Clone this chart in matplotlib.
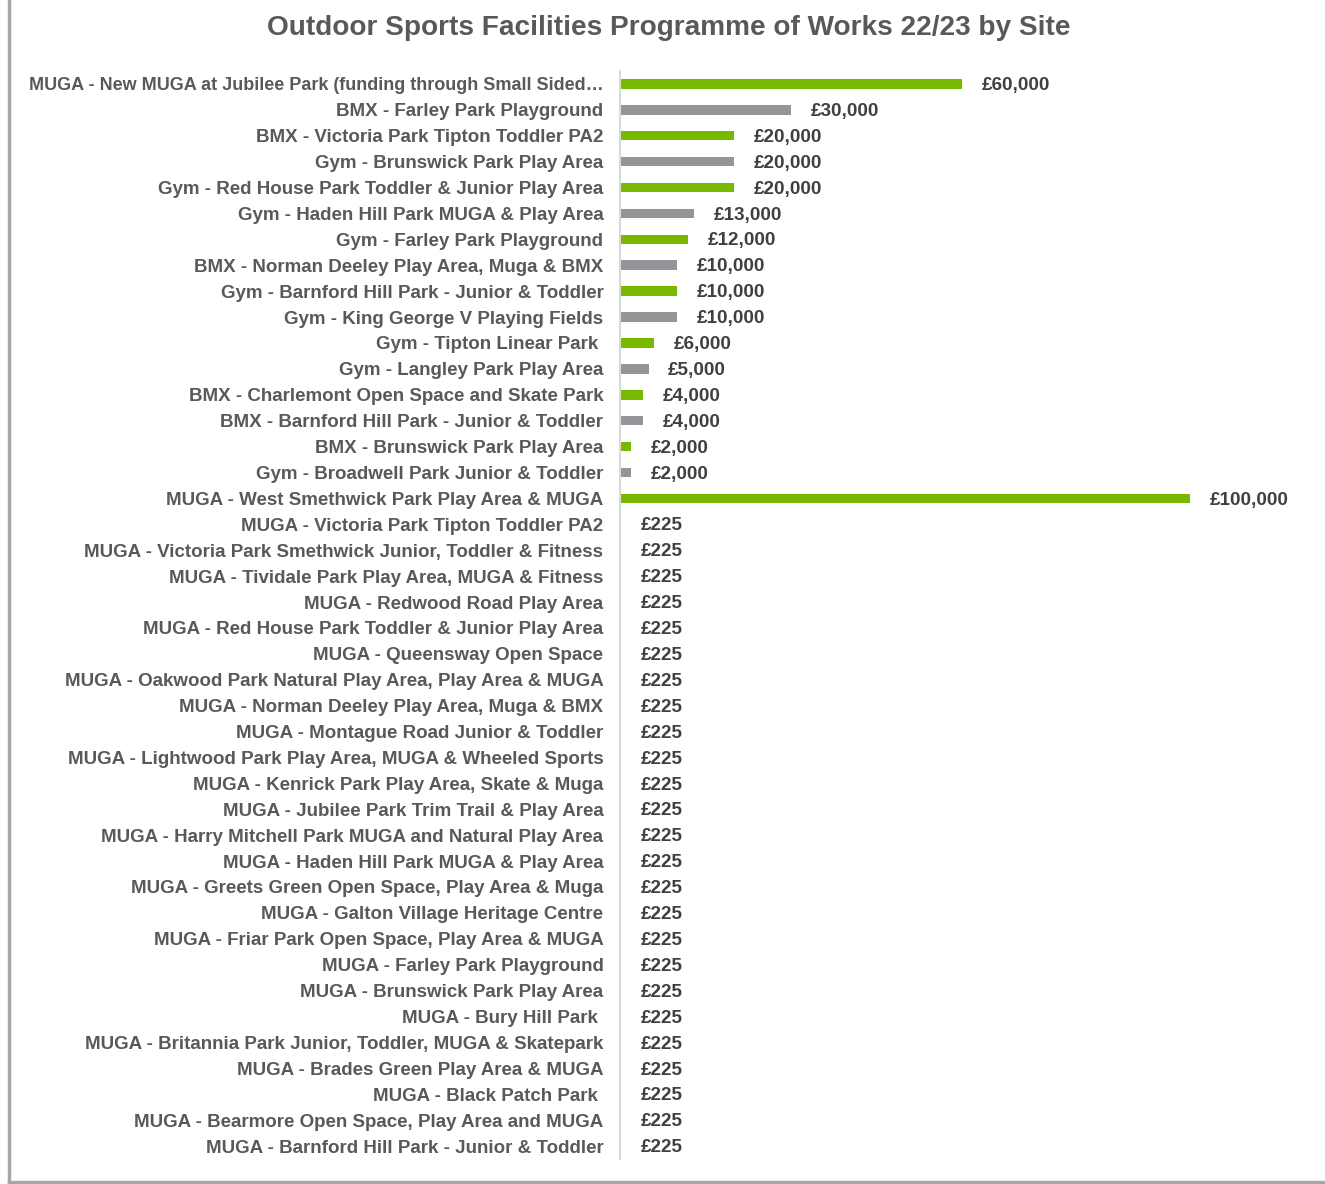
import matplotlib
matplotlib.use('Agg')
import matplotlib.pyplot as plt
from matplotlib.lines import Line2D

plt.rcParams['font.family'] = ['Liberation Sans', 'DejaVu Sans']
plt.rcParams['font.weight'] = 'bold'

sites = [
    "MUGA - New MUGA at Jubilee Park (funding through Small Sided\u2026",
    "BMX - Farley Park Playground",
    "BMX - Victoria Park Tipton Toddler PA2",
    "Gym - Brunswick Park Play Area",
    "Gym - Red House Park Toddler & Junior Play Area",
    "Gym - Haden Hill Park MUGA & Play Area",
    "Gym - Farley Park Playground",
    "BMX - Norman Deeley Play Area, Muga & BMX",
    "Gym - Barnford Hill Park - Junior & Toddler",
    "Gym - King George V Playing Fields",
    "Gym - Tipton Linear Park ",
    "Gym - Langley Park Play Area",
    "BMX - Charlemont Open Space and Skate Park",
    "BMX - Barnford Hill Park - Junior & Toddler",
    "BMX - Brunswick Park Play Area",
    "Gym - Broadwell Park Junior & Toddler",
    "MUGA - West Smethwick Park Play Area & MUGA",
    "MUGA - Victoria Park Tipton Toddler PA2",
    "MUGA - Victoria Park Smethwick Junior, Toddler & Fitness",
    "MUGA - Tividale Park Play Area, MUGA & Fitness",
    "MUGA - Redwood Road Play Area",
    "MUGA - Red House Park Toddler & Junior Play Area",
    "MUGA - Queensway Open Space",
    "MUGA - Oakwood Park Natural Play Area, Play Area & MUGA",
    "MUGA - Norman Deeley Play Area, Muga & BMX",
    "MUGA - Montague Road Junior & Toddler",
    "MUGA - Lightwood Park Play Area, MUGA & Wheeled Sports",
    "MUGA - Kenrick Park Play Area, Skate & Muga",
    "MUGA - Jubilee Park Trim Trail & Play Area",
    "MUGA - Harry Mitchell Park MUGA and Natural Play Area",
    "MUGA - Haden Hill Park MUGA & Play Area",
    "MUGA - Greets Green Open Space, Play Area & Muga",
    "MUGA - Galton Village Heritage Centre",
    "MUGA - Friar Park Open Space, Play Area & MUGA",
    "MUGA - Farley Park Playground",
    "MUGA - Brunswick Park Play Area",
    "MUGA - Bury Hill Park ",
    "MUGA - Britannia Park Junior, Toddler, MUGA & Skatepark",
    "MUGA - Brades Green Play Area & MUGA",
    "MUGA - Black Patch Park ",
    "MUGA - Bearmore Open Space, Play Area and MUGA",
    "MUGA - Barnford Hill Park - Junior & Toddler",
]
costs = [60000, 30000, 20000, 20000, 20000, 13000, 12000, 10000, 10000, 10000,
         6000, 5000, 4000, 4000, 2000, 2000, 100000] + [225] * 25

green = '#76b900'
grey = '#939598'
colours = [green if i % 2 == 0 else grey for i in range(16)] + [green] * 26

fig = plt.figure(figsize=(13.25, 11.84), dpi=100)
ax = fig.add_axes([0.468, 0.0211, 0.532, 0.919])

y = range(len(sites))
ax.barh(y, costs, height=0.37, color=colours)
ax.set_xlim(0, 123700)
ax.set_ylim(len(sites) - 0.5, -0.5)
ax.set_yticks(list(y))
ax.set_yticklabels(sites, fontsize=13.5, color='#595959')
ax.get_yticklabels()[0].set_fontsize(13.0)  # truncated label is a bit narrower in the original
ax.tick_params(axis='y', length=0, pad=12)
ax.set_xticks([])
for s in ['top', 'right', 'bottom']:
    ax.spines[s].set_visible(False)
ax.spines['left'].set_color('#d9d9d9')
ax.spines['left'].set_linewidth(1.5)

for i, v in enumerate(costs):
    ax.annotate('\u00a3{:,}'.format(v), (v, i), xytext=(14, -1.2), textcoords='offset points',
                va='center', ha='left', fontsize=13.6, color='#404040')

fig.text(0.505, 1 - 28 / 1184, 'Outdoor Sports Facilities Programme of Works 22/23 by Site',
         ha='center', va='center', fontsize=20.2, color='#595959')

# chart frame edges
fig.add_artist(Line2D([9 / 1325, 9 / 1325], [2 / 1184, 1], color='#a6a6a6', lw=2.5))
fig.add_artist(Line2D([9 / 1325, 1], [2 / 1184, 2 / 1184], color='#a6a6a6', lw=2.5))

fig.savefig('out.png', dpi=100)
